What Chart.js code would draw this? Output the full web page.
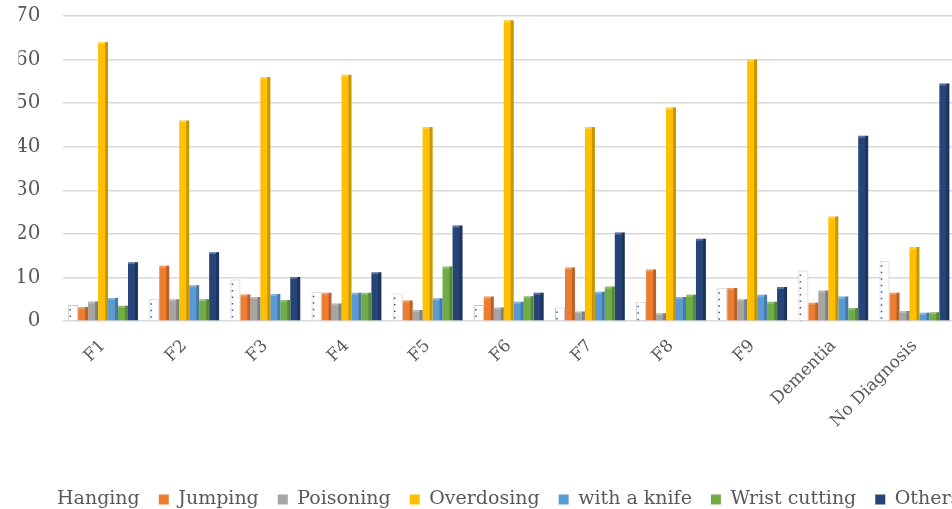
<!DOCTYPE html>
<html>
<head>
<meta charset="utf-8">
<script src="https://cdn.jsdelivr.net/npm/chart.js@4"></script>
<style>
  html, body { margin: 0; padding: 0; background: #ffffff; overflow: hidden; }
  #wrap { width: 1000px; height: 509px; position: relative; }
</style>
</head>
<body>
<div id="wrap"><canvas id="chart"></canvas></div>
<script>
// Method of attempt by diagnostic group (%)
const categories = ['F1', 'F2', 'F3', 'F4', 'F5', 'F6', 'F7', 'F8', 'F9', 'Dementia', 'No Diagnosis'];
const hanging    = [3.7, 5.0, 9.5, 6.7, 6.3, 3.7, 3.1, 4.4, 7.5, 11.6, 13.7];
const jumping    = [3.2, 12.7, 6.1, 6.5, 4.7, 5.6, 12.3, 11.8, 7.6, 4.2, 6.5];
const poisoning  = [4.5, 5.0, 5.5, 4.0, 2.5, 3.1, 2.2, 1.8, 5.0, 7.0, 2.3];
const overdosing = [64, 46, 56, 56.5, 44.5, 69, 44.5, 49, 60, 24, 17];
const knife      = [5.3, 8.2, 6.2, 6.5, 5.2, 4.4, 6.7, 5.5, 6.0, 5.6, 1.9];
const wrist      = [3.5, 5.0, 4.8, 6.5, 12.5, 5.7, 7.9, 6.0, 4.4, 3.0, 2.0];
const others     = [13.5, 15.8, 10.1, 11.2, 21.9, 6.5, 20.3, 18.9, 7.8, 42.5, 54.5];
const yTicks     = [0, 10, 20, 30, 40, 50, 60, 70];

const serif = 'DejaVu Serif';
const textGray = '#595959';

// Shaded right face on each column, dotted edge on the white "Hanging" column
const columnShade = {
  id: 'columnShade',
  afterDatasetsDraw(chart) {
    const ctx = chart.ctx;
    chart.data.datasets.forEach((ds, i) => {
      const meta = chart.getDatasetMeta(i);
      if (meta.hidden) return;
      meta.data.forEach(bar => {
        const { x, y, base, width } = bar.getProps(['x', 'y', 'base', 'width'], true);
        const left = x - width / 2, right = x + width / 2;
        ctx.save();
        if (i === 0) {
          ctx.strokeStyle = '#3b5a94';
          ctx.lineWidth = 1.5;
          ctx.setLineDash([1.5, 5]);
          ctx.beginPath();
          ctx.moveTo(left + 2, y + 4);
          ctx.lineTo(left + 2, base);
          ctx.stroke();
        } else {
          ctx.fillStyle = 'rgba(0,0,0,0.22)';
          ctx.fillRect(right - 3, y, 3, base - y);
          ctx.fillStyle = 'rgba(255,255,255,0.25)';
          ctx.fillRect(left, y, width - 3, 2);
        }
        ctx.restore();
      });
    });
  }
};

const series = [
  { label: 'Hanging',       data: hanging,    backgroundColor: '#ffffff', borderColor: '#c8c8c8', borderWidth: 1 },
  { label: 'Jumping',       data: jumping,    backgroundColor: '#ED7D31' },
  { label: 'Poisoning',     data: poisoning,  backgroundColor: '#A5A5A5' },
  { label: 'Overdosing',    data: overdosing, backgroundColor: '#FFC000' },
  { label: 'with a knife',  data: knife,      backgroundColor: '#5B9BD5' },
  { label: 'Wrist cutting', data: wrist,      backgroundColor: '#70AD47' },
  { label: 'Others',        data: others,     backgroundColor: '#264478' }
];

new Chart(document.getElementById('chart'), {
  type: 'bar',
  data: {
    labels: categories,
    datasets: series.map(s => Object.assign({ categoryPercentage: 0.86, barPercentage: 1.0 }, s))
  },
  options: {
    responsive: true,
    maintainAspectRatio: false,
    animation: false,
    layout: { padding: { left: 18.5, right: 0, top: 16, bottom: -10 } },
    scales: {
      x: {
        grid: { display: false },
        border: { display: false },
        ticks: {
          minRotation: 45, maxRotation: 45, padding: 7,
          color: textGray, font: { family: serif, size: 17 }
        },
        afterFit(scale) {
          scale.height = 150;
          scale.paddingLeft = 0;
          scale.paddingRight = 0;
        }
      },
      y: {
        min: 0, max: 70,
        afterBuildTicks(scale) { scale.ticks = yTicks.map(v => ({ value: v })); },
        grid: { color: '#d9d9d9', lineWidth: 1.5, drawTicks: false },
        border: { display: false },
        ticks: { padding: 22, color: textGray, font: { family: serif, size: 20 } },
        afterFit(scale) {
          scale.width = 44;
          scale.paddingTop = 0;
          scale.paddingBottom = 0;
        }
      },
      // empty margin on the right of the plot
      yRight: {
        position: 'right',
        min: 0, max: 70,
        grid: { display: false },
        border: { display: false },
        ticks: { display: false },
        afterFit(scale) { scale.width = 45; }
      }
    },
    plugins: {
      tooltip: { enabled: false },
      legend: {
        position: 'bottom',
        align: 'start',
        labels: {
          boxWidth: 10, boxHeight: 10, padding: 19,
          color: textGray, font: { family: serif, size: 19 },
          generateLabels(chart) {
            const items = Chart.defaults.plugins.legend.labels.generateLabels(chart);
            items.forEach((it, i) => { it.lineWidth = 0; if (i === 0) it.strokeStyle = '#ffffff'; });
            return items;
          }
        }
      }
    }
  },
  plugins: [columnShade]
});
</script>
</body>
</html>
